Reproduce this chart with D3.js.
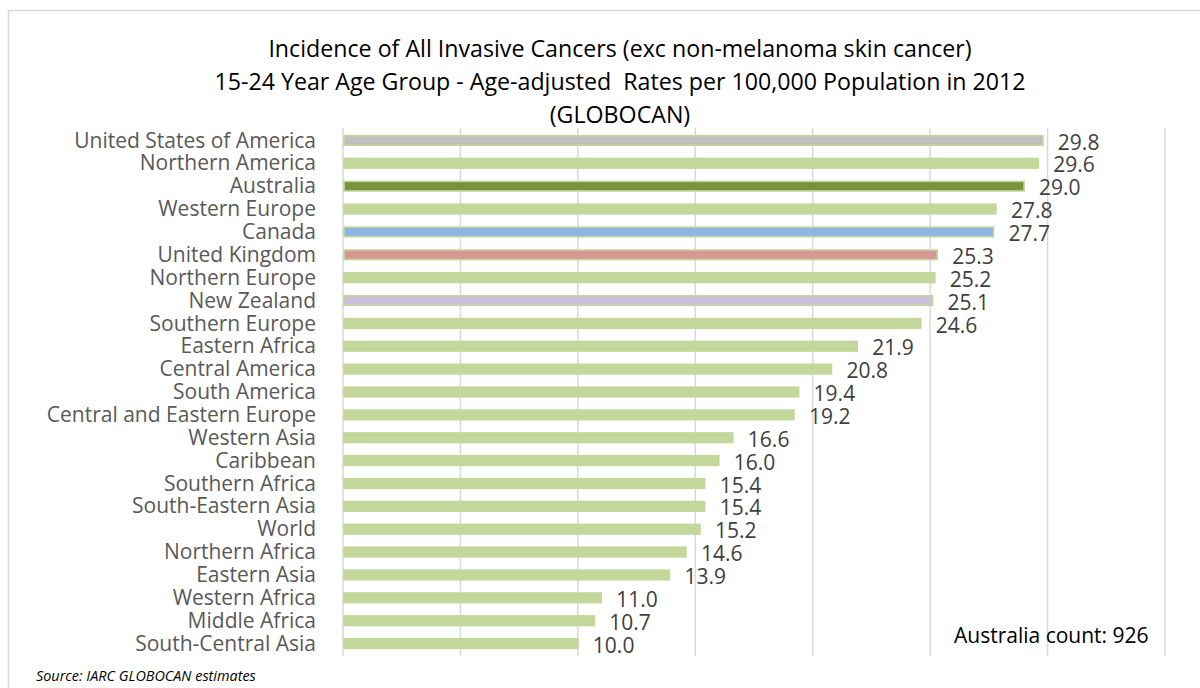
<!DOCTYPE html>
<html>
<head>
<meta charset="utf-8">
<script src="https://cdn.jsdelivr.net/npm/d3@7"></script>
<style>
  html, body { margin: 0; padding: 0; background: #fff; }
  svg { display: block; }
</style>
</head>
<body>
<svg id="chart" width="1200" height="688"></svg>
<script>
// Incidence rates per 100,000, 15-24 year olds, GLOBOCAN 2012
const categories = [
  "United States of America", "Northern America", "Australia", "Western Europe",
  "Canada", "United Kingdom", "Northern Europe", "New Zealand", "Southern Europe",
  "Eastern Africa", "Central America", "South America", "Central and Eastern Europe",
  "Western Asia", "Caribbean", "Southern Africa", "South-Eastern Asia", "World",
  "Northern Africa", "Eastern Asia", "Western Africa", "Middle Africa", "South-Central Asia"
];
const rates = [
  29.8, 29.6, 29.0, 27.8, 27.7, 25.3, 25.2, 25.1, 24.6,
  21.9, 20.8, 19.4, 19.2, 16.6, 16.0, 15.4, 15.4, 15.2,
  14.6, 13.9, 11.0, 10.7, 10.0
];
// Highlighted countries get their own inner fill colour
const highlights = {
  "United States of America": "#bfbfbf",
  "Australia": "#77933c",
  "Canada": "#8db4e2",
  "United Kingdom": "#da9694",
  "New Zealand": "#ccc0da"
};
const xTicks = [0, 5, 10, 15, 20, 25, 30, 35];
const titleLines = [
  "Incidence of All Invasive Cancers (exc non-melanoma skin cancer)",
  "15-24 Year Age Group - Age-adjusted  Rates per 100,000 Population in 2012",
  "(GLOBOCAN)"
];
const noteText = "Australia count: 926";
const sourceText = "Source: IARC GLOBOCAN estimates";

const baseGreen = "#c4d79b";
const font = "'Open Sans', sans-serif";

const svg = d3.select("#chart");

// outer chart frame
svg.append("rect")
  .attr("x", 8.5).attr("y", 10.5)
  .attr("width", 1200).attr("height", 700)
  .attr("fill", "#fff")
  .attr("stroke", "#d9d9d9")
  .attr("stroke-width", 1.5);

const x = d3.scaleLinear().domain([0, 35]).range([343, 1165]);
const y = d3.scaleBand().domain(categories).range([129, 655]).paddingInner(0.58).paddingOuter(0.29);

// vertical gridlines
svg.append("g")
  .selectAll("line")
  .data(xTicks)
  .join("line")
  .attr("x1", d => x(d)).attr("x2", d => x(d))
  .attr("y1", 128).attr("y2", 656)
  .attr("stroke", "#d9d9d9")
  .attr("stroke-width", 1.5);

// title
svg.append("g")
  .selectAll("text")
  .data(titleLines)
  .join("text")
  .attr("x", 620)
  .attr("y", (d, i) => 57 + i * 33)
  .attr("text-anchor", "middle")
  .attr("font-family", font)
  .attr("font-size", 23.2)
  .attr("fill", "#000")
  .style("white-space", "pre")
  .text(d => d);

// bars: light green outline, inner fill from highlights
svg.append("g")
  .selectAll("rect")
  .data(categories)
  .join("rect")
  .attr("x", x(0) + 1)
  .attr("y", d => y(d))
  .attr("width", (d, i) => x(rates[i]) - x(0) - 1)
  .attr("height", y.bandwidth())
  .attr("fill", d => highlights[d] || baseGreen)
  .attr("stroke", baseGreen)
  .attr("stroke-width", 1.6);

// category labels
const yAxis = d3.axisLeft(y).tickSize(0).tickPadding(0);
const gy = svg.append("g").attr("transform", "translate(316,0)").call(yAxis);
gy.select(".domain").remove();
gy.selectAll("text")
  .attr("font-family", font)
  .attr("font-size", 21)
  .attr("fill", "#595959")
  .attr("dy", "0.34em");

// value labels
svg.append("g")
  .selectAll("text")
  .data(categories)
  .join("text")
  .attr("x", (d, i) => x(rates[i]) + 15)
  .attr("y", d => y(d) + y.bandwidth() / 2 + 2)
  .attr("dy", "0.34em")
  .attr("font-family", font)
  .attr("font-size", 21)
  .attr("fill", "#404040")
  .text((d, i) => rates[i].toFixed(1));

// note
svg.append("text")
  .attr("x", 954).attr("y", 636).attr("dy", "0.34em")
  .attr("font-family", font)
  .attr("font-size", 21)
  .attr("fill", "#000")
  .text(noteText);

// source
svg.append("text")
  .attr("x", 36).attr("y", 676).attr("dy", "0.34em")
  .attr("font-family", font)
  .attr("font-size", 14.4)
  .attr("font-style", "italic")
  .attr("fill", "#000")
  .text(sourceText);
</script>
</body>
</html>
